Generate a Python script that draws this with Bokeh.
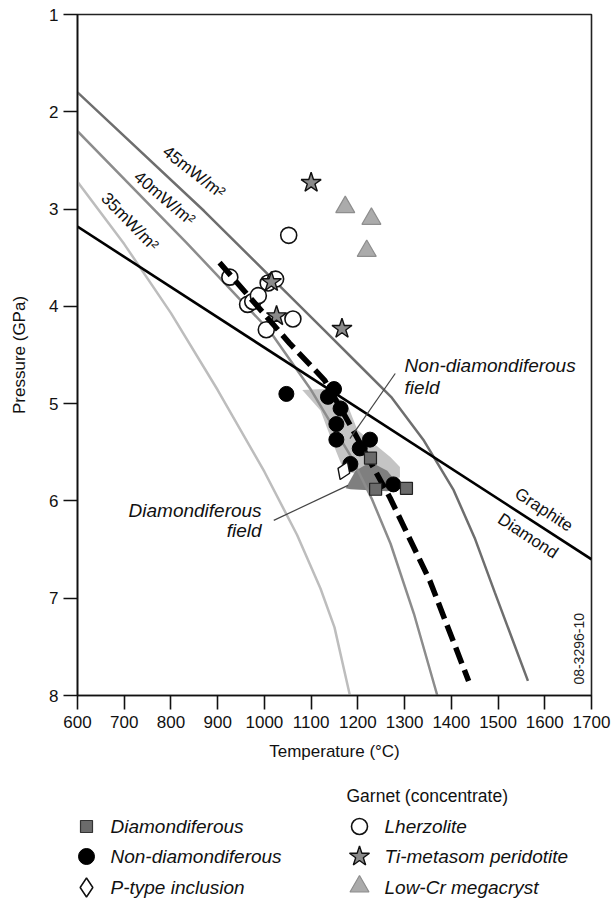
from bokeh.plotting import figure
from bokeh.models import Range1d, FixedTicker
from bokeh.layouts import column
from bokeh.core.properties import value
from bokeh.embed import file_html
from bokeh.resources import INLINE

# ---- data: temperature (°C) / pressure (GPa) ----
# conductive geotherms
geo45_T = [600, 871, 1129, 1200, 1271, 1340, 1405, 1450, 1493, 1564]
geo45_P = [1.80, 3.02, 4.25, 4.59, 4.93, 5.37, 5.89, 6.38, 6.94, 7.85]
geo40_T = [600, 834, 1011, 1100, 1186, 1230, 1270, 1320, 1370]
geo40_P = [2.20, 3.35, 4.25, 4.86, 5.55, 5.98, 6.44, 7.16, 8.00]
geo35_T = [600, 700, 800, 900, 1000, 1070, 1120, 1150, 1183]
geo35_P = [2.72, 3.36, 4.07, 4.86, 5.70, 6.35, 6.90, 7.30, 8.00]

# graphite-diamond transition
gd_T = [600, 1700]
gd_P = [3.18, 6.60]

# fitted local geotherm (dashed)
fit_T = [904, 1054, 1129, 1187, 1269, 1354, 1437]
fit_P = [3.55, 4.38, 4.76, 5.25, 5.97, 6.82, 7.85]

# xenolith fields
nondia_field_T = [1081, 1127, 1177, 1199, 1270, 1290, 1290, 1249, 1170, 1141, 1120]
nondia_field_P = [4.86, 4.85, 5.00, 5.27, 5.55, 5.65, 5.76, 5.79, 5.69, 5.34, 5.07]
dia_field_T = [1174, 1195, 1227, 1263, 1291, 1263, 1184]
dia_field_P = [5.87, 5.69, 5.60, 5.69, 5.86, 5.90, 5.88]

# xenoliths
dia_T = [1227, 1238, 1304]
dia_P = [5.56, 5.88, 5.87]
nondia_T = [1047, 1149, 1136, 1163, 1154, 1154, 1226, 1204, 1184, 1276]
nondia_P = [4.90, 4.85, 4.93, 5.05, 5.21, 5.37, 5.37, 5.46, 5.62, 5.83]
ptype_T = [1170]
ptype_P = [5.69]

# garnet concentrate
lherz_T = [1052, 926, 1008, 1024, 964, 975, 987, 1061, 1004]
lherz_P = [3.27, 3.70, 3.76, 3.72, 3.98, 3.95, 3.89, 4.13, 4.24]
timet_T = [1100, 1015, 1026, 1166]
timet_P = [2.73, 3.75, 4.10, 4.23]
megac_T = [1173, 1229, 1219]
megac_P = [2.98, 3.10, 3.43]

x_ticks = [600, 700, 800, 900, 1000, 1100, 1200, 1300, 1400, 1500, 1600, 1700]
y_ticks = [1, 2, 3, 4, 5, 6, 7, 8]

SANS = "Liberation Sans"

p = figure(width=612, height=775, x_range=Range1d(600, 1700), y_range=Range1d(8, 1),
           output_backend="svg", toolbar_location=None,
           min_border_left=77, min_border_right=21, min_border_top=14, min_border_bottom=80)
p.grid.visible = False
p.outline_line_color = "#222222"
p.outline_line_width = 1.6

for ax in (p.xaxis[0], p.yaxis[0]):
    ax.axis_line_color = "#111111"
    ax.axis_line_width = 1.6
    ax.major_tick_line_color = "#111111"
    ax.major_tick_line_width = 1.6
    ax.major_tick_in = 0
    ax.major_tick_out = 14
    ax.minor_tick_line_color = None
    ax.major_label_text_font = SANS
    ax.major_label_text_font_size = "17px"
    ax.major_label_text_color = "#111111"
    ax.axis_label_text_font = SANS
    ax.axis_label_text_font_size = "17px"
    ax.axis_label_text_font_style = "normal"
    ax.axis_label_text_color = "#111111"

p.xaxis.ticker = FixedTicker(ticks=x_ticks)
p.yaxis.ticker = FixedTicker(ticks=y_ticks)
p.xaxis.axis_label = "Temperature (°C)"
p.yaxis.axis_label = "Pressure (GPa)"
p.xaxis.major_label_standoff = 6
p.yaxis.major_label_standoff = 5
p.xaxis.axis_label_standoff = 11
p.yaxis.axis_label_standoff = 17

# fields
p.patch(nondia_field_T, nondia_field_P, fill_color="#c4c4c4", line_color=None)
p.patch(dia_field_T, dia_field_P, fill_color="#7f7f7f", line_color=None)

# geotherms
p.line(geo35_T, geo35_P, line_color="#bdbdbd", line_width=2.5)
p.line(geo40_T, geo40_P, line_color="#8c8c8c", line_width=2.5)
p.line(geo45_T, geo45_P, line_color="#6e6e6e", line_width=2.5)

# graphite / diamond boundary
p.line(gd_T, gd_P, line_color="#000000", line_width=2.6)

# garnet concentrate
p.scatter(lherz_T, lherz_P, marker="circle", size=16, fill_color="white",
          line_color="#111111", line_width=1.6)
p.scatter(timet_T, timet_P, marker="star", size=21, fill_color="#8a8a8a",
          line_color="#111111", line_width=1.4)
p.scatter(megac_T, megac_P, marker="triangle", size=19, fill_color="#ababab",
          line_color="#8e8e8e", line_width=1.2)

# fitted geotherm
p.line(fit_T, fit_P, line_color="#000000", line_width=5.5, line_dash="17 7")

# xenoliths
p.scatter(nondia_T, nondia_P, marker="circle", size=15, fill_color="#000000",
          line_color="#000000")
p.scatter(dia_T, dia_P, marker="square", size=12, fill_color="#6b6b6b",
          line_color="#222222", line_width=1.2)
p.scatter(ptype_T, ptype_P, marker="diamond", size=19, angle=-0.4, fill_color="white",
          line_color="#111111", line_width=1.4)

# curve labels
curve_lbl = dict(text_font=value(SANS), text_font_size="17px", text_color="#111111",
                 text_align="center", text_baseline="middle")
p.text(x=[849], y=[2.62], text=["45mW/m²"], angle=-0.66, **curve_lbl)
p.text(x=[786], y=[2.89], text=["40mW/m²"], angle=-0.70, **curve_lbl)
p.text(x=[712], y=[3.13], text=["35mW/m²"], angle=-0.80, **curve_lbl)
p.text(x=[1598], y=[6.09], text=["Graphite"], angle=-0.58, **curve_lbl)
p.text(x=[1564], y=[6.36], text=["Diamond"], angle=-0.58, **curve_lbl)

# field labels with leaders
field_lbl = dict(text_font=value(SANS), text_font_size="19px", text_font_style="italic",
                 text_color="#111111", text_baseline="middle")
p.text(x=[1300, 1300], y=[4.61, 4.83], text=["Non-diamondiferous", "field"],
       text_align="left", **field_lbl)
p.text(x=[994, 994], y=[6.10, 6.30], text=["Diamondiferous", "field"],
       text_align="right", **field_lbl)
p.segment(x0=[1280, 1020], y0=[4.69, 6.20], x1=[1183, 1179], y1=[5.36, 5.84],
          line_color="#444444", line_width=1.2)

p.text(x=[1673], y=[7.52], text=["08-3296-10"], angle=1.5708,
       text_font=value(SANS), text_font_size="14px", text_color="#222222",
       text_align="center", text_baseline="middle")

# ---- key (frame shares the horizontal span of the chart frame: page px 77..591) ----
k = figure(width=612, height=123, x_range=Range1d(77, 591), y_range=Range1d(123, 0),
           output_backend="svg", toolbar_location=None, min_border=0,
           x_axis_location=None, y_axis_location=None)
k.grid.visible = False
k.outline_line_color = None

k.text(x=[346], y=[20], text=["Garnet (concentrate)"], text_font=value(SANS),
       text_font_size="17.5px", text_color="#111111", text_baseline="middle")
rows = [51, 81, 112]
k.scatter([86], [rows[0]], marker="square", size=12, fill_color="#6b6b6b",
          line_color="#333333", line_width=1.2)
k.scatter([86], [rows[1]], marker="circle", size=16, fill_color="#000000", line_color="#000000")
k.scatter([86], [rows[2]], marker="diamond", size=19, fill_color="white",
          line_color="#111111", line_width=1.5)
k.scatter([359], [rows[0]], marker="circle", size=16, fill_color="white",
          line_color="#111111", line_width=1.6)
k.scatter([359], [rows[1]], marker="star", size=21, fill_color="#8a8a8a",
          line_color="#111111", line_width=1.4)
k.scatter([359], [rows[2] - 1], marker="triangle", size=19, fill_color="#ababab",
          line_color="#8e8e8e", line_width=1.2)
key_lbl = dict(text_font=value(SANS), text_font_size="19px", text_font_style="italic",
               text_color="#111111", text_baseline="middle", text_align="left")
k.text(x=[110, 110, 110], y=rows, text=["Diamondiferous", "Non-diamondiferous", "P-type inclusion"], **key_lbl)
k.text(x=[384, 384, 384], y=rows, text=["Lherzolite", "Ti-metasom peridotite", "Low-Cr megacryst"], **key_lbl)

layout = column(p, k, spacing=0)
open("out.html", "w").write(file_html(layout, INLINE))
